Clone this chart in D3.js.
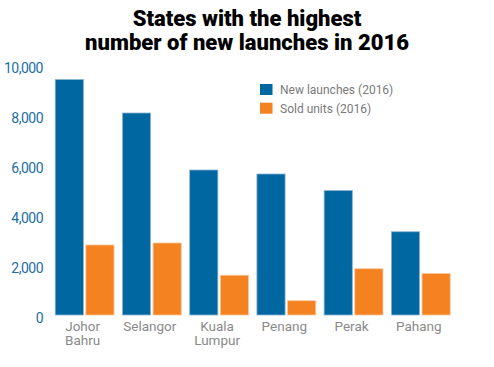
<!DOCTYPE html>
<html>
<head>
<meta charset="utf-8">
<script src="https://cdn.jsdelivr.net/npm/d3@7"></script>
<style>
  body { margin: 0; background: #fff; }
  svg { display: block; }
</style>
</head>
<body>
<div id="chartwrap"></div>
<script>
const WIDTH = 494;
const HEIGHT = 367;

const states = ['Johor\nBahru', 'Selangor', 'Kuala\nLumpur', 'Penang', 'Perak', 'Pahang'];
const newLaunches = [9420, 8080, 5800, 5640, 4980, 3330];
const soldUnits = [2800, 2880, 1590, 570, 1850, 1660];
const seriesNames = ['New launches (2016)', 'Sold units (2016)'];
const yTicks = [0, 2000, 4000, 6000, 8000, 10000];

const colors = ['#0067a0', '#f58220'];

const chart = {
  left: 51, right: 454.4,
  top: 65, bottom: 315
};

const rows = states.map((s, i) => ({ state: s, values: [newLaunches[i], soldUnits[i]] }));

const svg = d3.select('#chartwrap')
  .append('svg')
  .attr('width', WIDTH)
  .attr('height', HEIGHT)
  .style('font-family', 'Roboto, sans-serif');

// title, two lines
const titleLines = ['States with the highest', 'number of new launches in 2016'];
svg.selectAll('text.title')
  .data(titleLines)
  .enter()
  .append('text')
  .attr('class', 'title')
  .attr('x', 247)
  .attr('y', (d, i) => 26 + i * 24)
  .attr('text-anchor', 'middle')
  .style('font-size', '22px')
  .style('font-weight', 900)
  .style('fill', '#000')
  .text(d => d);

const x0 = d3.scaleBand()
  .domain(states)
  .range([chart.left, chart.right])
  .paddingInner(0.125)
  .paddingOuter(0.0625);

const x1 = d3.scaleBand()
  .domain([0, 1])
  .range([0, x0.bandwidth()])
  .paddingInner(0.08);

const yScale = d3.scaleLinear()
  .domain([0, 10000])
  .range([chart.bottom, chart.top]);

const yAxis = d3.axisLeft(yScale)
  .tickValues(yTicks)
  .tickSize(0)
  .tickPadding(0)
  .tickFormat(d3.format(','));

const gy = svg.append('g')
  .attr('transform', 'translate(43,3)')
  .call(yAxis);
gy.select('.domain').remove();
gy.selectAll('text')
  .style('font-size', '14px')
  .style('letter-spacing', '-0.5px')
  .style('font-family', 'Roboto, sans-serif')
  .attr('fill', '#1a6ea3');

// bars
const groups = svg.selectAll('g.group')
  .data(rows)
  .enter()
  .append('g')
  .attr('class', 'group')
  .attr('transform', d => `translate(${x0(d.state)},0)`);

groups.selectAll('rect')
  .data(d => d.values)
  .enter()
  .append('rect')
  .attr('x', (d, i) => x1(i))
  .attr('width', x1.bandwidth())
  .attr('y', d => yScale(d))
  .attr('height', d => yScale(0) - yScale(d))
  .attr('fill', (d, i) => colors[i])
  .attr('stroke', (d, i) => i ? '#fbc79b' : '#8bb5d1')
  .attr('stroke-width', 0.8);

// x labels, one text per line
const xAxis = d3.axisBottom(x0).tickSize(0).tickPadding(0).tickFormat('');
const gx = svg.append('g')
  .attr('transform', `translate(0,${chart.bottom})`)
  .call(xAxis);
gx.select('.domain').remove();
gx.selectAll('.tick')
  .selectAll('text.lbl')
  .data(d => d.split('\n'))
  .enter()
  .append('text')
  .attr('class', 'lbl')
  .attr('x', -2)
  .attr('y', (d, i) => 16 + i * 14)
  .attr('text-anchor', 'middle')
  .attr('fill', '#8a8a8a')
  .style('font-size', '13.5px')
  .style('font-family', 'Roboto, sans-serif')
  .text(d => d);

// legend
const legend = svg.append('g')
  .attr('transform', 'translate(260,84)');

legend.selectAll('rect')
  .data(seriesNames)
  .enter()
  .append('rect')
  .attr('x', 0)
  .attr('y', (d, i) => i * 18.7)
  .attr('width', 12.5)
  .attr('height', 11)
  .attr('fill', (d, i) => colors[i]);

legend.selectAll('text')
  .data(seriesNames)
  .enter()
  .append('text')
  .attr('x', 20)
  .attr('y', (d, i) => i * 18.7 + 10)
  .attr('fill', '#7a7a7a')
  .style('font-size', '12px')
  .text(d => d);
</script>
</body>
</html>
